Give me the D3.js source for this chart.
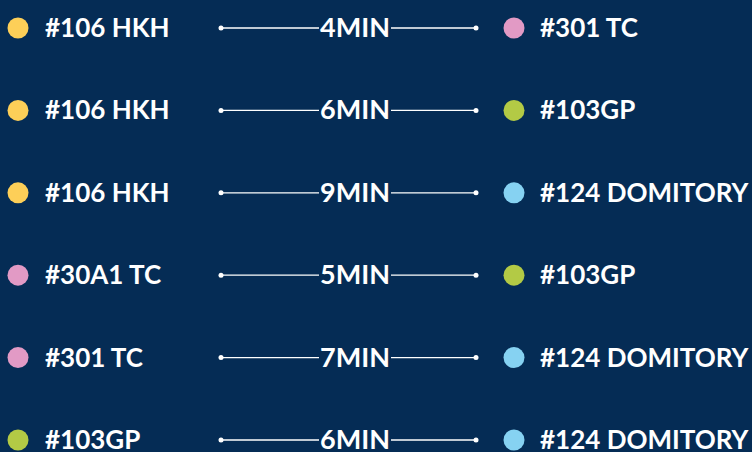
<!DOCTYPE html>
<html>
<head>
<meta charset="utf-8">
<script src="https://cdn.jsdelivr.net/npm/d3@7"></script>
<style>
html,body{margin:0;padding:0;background:#052C55;overflow:hidden;}
svg{display:block;}
</style>
</head>
<body>
<svg id="chart" width="752" height="452"></svg>
<script>
const sources = ["#106 HKH", "#106 HKH", "#106 HKH", "#30A1 TC", "#301 TC", "#103GP"];
const targets = ["#301 TC", "#103GP", "#124 DOMITORY", "#103GP", "#124 DOMITORY", "#124 DOMITORY"];
const minutes = [4, 6, 9, 5, 7, 6];
const places = ["#106 HKH", "#30A1 TC", "#301 TC", "#103GP", "#124 DOMITORY"];
const placeColors = ["#FDCF58", "#E29AC5", "#E29AC5", "#B3CA45", "#86D2F2"];

const W = 752, H = 452, BG = "#052C55";
const svg = d3.select("#chart");
svg.append("rect").attr("width", W).attr("height", H).attr("fill", BG);

const color = d3.scaleOrdinal().domain(places).range(placeColors);
const y = d3.scalePoint().domain(d3.range(sources.length)).range([28, 440]);
const x = d3.scaleLinear().domain([0, 1]).range([221, 476]);

const rows = sources.map((s, i) => ({s, t: targets[i], m: minutes[i], i}));
const g = svg.selectAll("g.row").data(rows).join("g").attr("class", "row")
  .attr("transform", d => `translate(0,${y(d.i)})`);

const font = "Lato, 'Noto Sans', sans-serif";
const fs = 26, dy = 9;

// connecting line
g.append("line").attr("x1", x(0)).attr("x2", x(1)).attr("y1", 0).attr("y2", 0)
  .attr("stroke", "#FFFFFF").attr("stroke-width", 1.3);
g.append("circle").attr("cx", x(0)).attr("r", 2.5).attr("fill", "#fff");
g.append("circle").attr("cx", x(1)).attr("r", 2.5).attr("fill", "#fff");

// middle label with background gap
const mid = g.append("g");
const midText = mid.append("text")
  .attr("x", 355).attr("y", dy)
  .attr("text-anchor", "middle")
  .attr("font-family", font).attr("font-weight", 700).attr("font-size", 27)
  .attr("fill", "#FFFFFF")
  .text(d => d.m + "MIN");
midText.each(function () {
  const b = this.getBBox();
  d3.select(this.parentNode).insert("rect", "text")
    .attr("x", b.x - 1).attr("y", -4).attr("width", b.width + 2).attr("height", 8)
    .attr("fill", BG);
});

// left node
g.append("circle").attr("cx", 18).attr("r", 10.5).attr("fill", d => color(d.s));
g.append("text").attr("x", 45).attr("y", dy)
  .attr("font-family", font).attr("font-weight", 700).attr("font-size", fs)
  .attr("fill", "#FFFFFF").text(d => d.s);

// right node
g.append("circle").attr("cx", 514).attr("r", 10.5).attr("fill", d => color(d.t));
g.append("text").attr("x", 540).attr("y", dy)
  .attr("font-family", font).attr("font-weight", 700).attr("font-size", fs)
  .attr("fill", "#FFFFFF").text(d => d.t);
</script>
</body>
</html>
